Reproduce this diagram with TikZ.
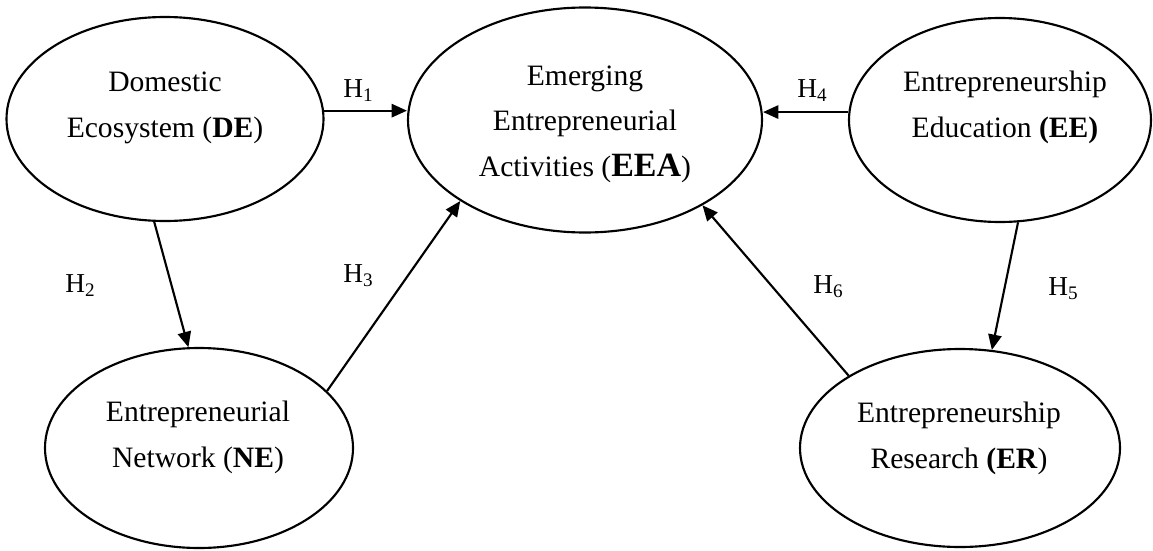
\documentclass[tikz,border=0pt]{standalone}
\usepackage{fontspec}
\setmainfont{Liberation Serif}
\usetikzlibrary{shapes.geometric,arrows.meta}
\begin{document}
\begin{tikzpicture}[x=0.75pt,y=-0.75pt,
  ell/.style={draw, ellipse, line width=1.6pt, inner sep=0pt},
  txt/.style={align=center, inner sep=0pt, anchor=base, font=\fontsize{22.2}{34}\selectfont},
  hlab/.style={inner sep=0pt, anchor=base west, font=\fontsize{20.5}{24}\selectfont},
  arr/.style={line width=1.6pt, -{Triangle[length=11.5pt,width=10pt]}}]
\useasboundingbox (0,0) rectangle (1153,550);
% ellipses
\node[ell, minimum width=317*0.75pt, minimum height=204*0.75pt] (DE) at (165,119) {};
\node[ell, minimum width=354*0.75pt, minimum height=225*0.75pt] (EEA) at (585,120) {};
\node[ell, minimum width=302*0.75pt, minimum height=204*0.75pt] (EE) at (1000,120) {};
\node[ell, minimum width=308*0.75pt, minimum height=200*0.75pt] (NE) at (199,448) {};
\node[ell, minimum width=320*0.75pt, minimum height=198*0.75pt] (ER) at (960,448) {};
% texts
\node[txt] (DEt) at (165,137) {Domestic\\Ecosystem (\textbf{DE})};
\node[txt] (EEAt) at (585,176) {Emerging\\Entrepreneurial\\Activities (\textbf{\fontsize{25.5}{34}\selectfont EEA})};
\node[txt] (EEt) at (1005,137) {Entrepreneurship\\Education \textbf{(EE)}};
\node[txt] (NEt) at (198,467) {Entrepreneurial\\Network (\textbf{NE})};
\node[txt] (ERt) at (959,468) {Entrepreneurship\\Research \textbf{(ER})};
% connectors
\draw[arr] (DE.3) -- (DE.3 -| EEA.west);
\draw[arr] (EE.177) -- (EE.177 -| EEA.east);
\draw[arr] (DE.264) -- (NE.96);
\draw[arr] (NE.24) -- (EEA.213);
\draw[arr] (EE.280) -- (ER.72);
\draw[arr] (ER.147) -- (EEA.324);
% labels
\node[hlab] (H1) at (343,97) {H\textsubscript{1}};
\node[hlab] (H2) at (65,292) {H\textsubscript{2}};
\node[hlab] (H3) at (343,282) {H\textsubscript{3}};
\node[hlab] (H4) at (797,97) {H\textsubscript{4}};
\node[hlab] (H5) at (1048,295) {H\textsubscript{5}};
\node[hlab] (H6) at (813,293) {H\textsubscript{6}};
\end{tikzpicture}
\end{document}
